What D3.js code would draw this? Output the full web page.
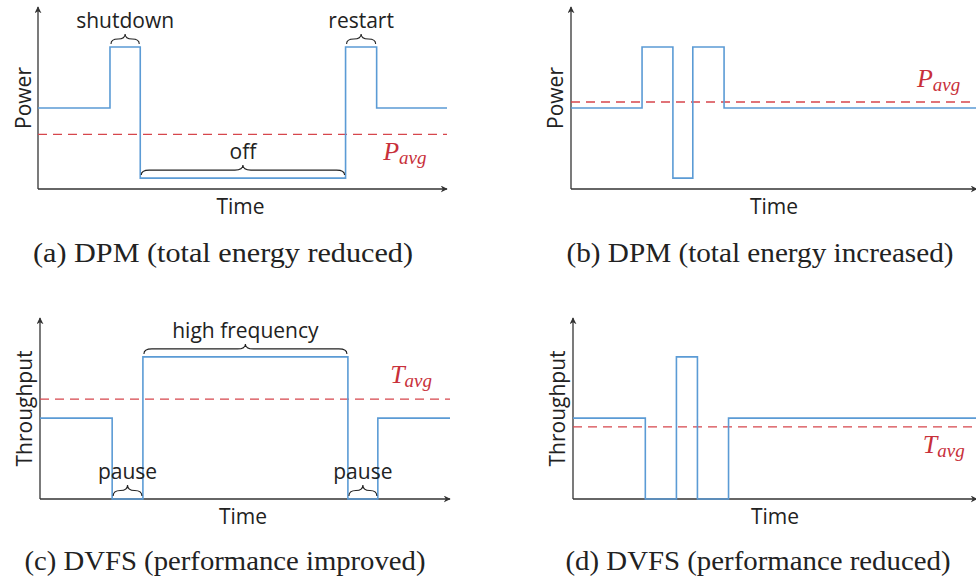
<!DOCTYPE html>
<html>
<head>
<meta charset="utf-8">
<script src="https://cdn.jsdelivr.net/npm/d3@7"></script>
<style>
  body { margin: 0; background: #fff; }
  svg { display: block; }
</style>
</head>
<body>
<div class="div1"></div>
<script>
// step signals: time breakpoints (0..100) and level after each breakpoint (0..100)
const timeA  = [0, 17.6, 25, 75.2, 82.8, 100];
const levelA = [44.5, 78, 6, 78, 44.5, 44.5];
const avgA   = 30;

const timeB  = [0, 17.5, 25.1, 30, 37.7, 100];
const levelB = [44.5, 78, 6, 78, 44.5, 44.5];
const avgB   = 47.8;

const timeC  = [0, 17.6, 25.1, 75.1, 82.4, 100];
const levelC = [44.7, 0, 78.5, 0, 44.7, 44.7];
const avgC   = 55.2;

const timeD  = [0, 17.9, 25.6, 30.8, 38.5, 100];
const levelD = [44.7, 0, 78.5, 0, 44.7, 44.7];
const avgD   = 39.8;

// annotations: [label, t1, t2, level of brace ends]
const notesA = [["shutdown", 17.6, 25, 78], ["restart", 75.2, 82.8, 78], ["off", 25, 75.2, 6]];
const notesC = [["high frequency", 25.1, 75.1, 78.5], ["pause", 17.6, 25.1, 0], ["pause", 75.1, 82.4, 0]];

const yLabels  = ["Power", "Power", "Throughput", "Throughput"];
const avgNames = ["P", "P", "T", "T"];
const captions = ["(a) DPM (total energy reduced)", "(b) DPM (total energy increased)",
                  "(c) DVFS (performance improved)", "(d) DVFS (performance reduced)"];

const W = 976, H = 588;
const blue = "#5b9bd5", red = "#d6464c", axisCol = "#333";

const svg = d3.select(".div1").append("svg")
  .attr("width", W).attr("height", H);

const defs = svg.append("defs");
defs.append("marker")
  .attr("id", "arr")
  .attr("viewBox", "0 0 10 10")
  .attr("refX", 9).attr("refY", 5)
  .attr("markerWidth", 7).attr("markerHeight", 7)
  .attr("markerUnits", "userSpaceOnUse")
  .attr("orient", "auto")
  .append("path")
  .attr("d", "M0,0 L10,5 L0,10 L3,5 Z")
  .attr("fill", axisCol);

// panel layout (pixels)
const panels = [
  {t: timeA, v: levelA, avg: avgA, notes: notesA, left: 38,  right: 447, top: 7,   bottom: 189,
   avgT: 84.4, avgDy: 26, capX: 223, capY: 262, capW: 380, ylx: 31},
  {t: timeB, v: levelB, avg: avgB, notes: [], left: 571, right: 977, top: 7,   bottom: 189,
   avgT: 85.2, avgDy: -15, capX: 760, capY: 262, capW: 387, ylx: 563},
  {t: timeC, v: levelC, avg: avgC, notes: notesC, left: 40,  right: 450, top: 318, bottom: 499,
   avgT: 85.4, avgDy: -16, capX: 225, capY: 570, capW: 401, ylx: 32},
  {t: timeD, v: levelD, avg: avgD, notes: [], left: 573, right: 977, top: 318, bottom: 499,
   avgT: 86.6, avgDy: 26, capX: 758, capY: 570, capW: 385, ylx: 565}
];

function brace(x1, x2, y, h) {
  // curly brace, tip pointing up
  const xm = (x1 + x2) / 2, r = Math.min(8, (x2 - x1) / 4), ym = y - h / 2;
  return `M${x1},${y} Q${x1},${ym} ${x1 + r},${ym} L${xm - r},${ym} Q${xm},${ym} ${xm},${y - h}` +
         ` Q${xm},${ym} ${xm + r},${ym} L${x2 - r},${ym} Q${x2},${ym} ${x2},${y}`;
}

panels.forEach((p, i) => {
  const x = d3.scaleLinear().domain([0, 100]).range([p.left, p.right]);
  const y = d3.scaleLinear().domain([0, 100]).range([p.bottom, p.top]);
  const g = svg.append("g");

  // axes with arrows
  g.append("line")
    .attr("x1", x(0)).attr("y1", y(0)).attr("x2", x(0)).attr("y2", y(100))
    .attr("stroke", axisCol).attr("stroke-width", 1.3).attr("marker-end", "url(#arr)");
  g.append("line")
    .attr("x1", x(0)).attr("y1", y(0)).attr("x2", x(100)).attr("y2", y(0))
    .attr("stroke", axisCol).attr("stroke-width", 1.3).attr("marker-end", "url(#arr)");

  // average dashed line
  g.append("line")
    .attr("x1", x(0)).attr("x2", x(100))
    .attr("y1", y(p.avg)).attr("y2", y(p.avg))
    .attr("stroke", red).attr("stroke-width", 1.3).attr("stroke-dasharray", "9,6");

  // signal
  const pts = p.t.map((t, k) => [t, p.v[k]]);
  const line = d3.line().x(d => x(d[0])).y(d => y(d[1])).curve(d3.curveStepAfter);
  g.append("path")
    .attr("d", line(pts))
    .attr("fill", "none").attr("stroke", blue).attr("stroke-width", 1.6);

  // average label
  const lab = g.append("text")
    .attr("x", x(p.avgT)).attr("y", y(p.avg) + p.avgDy)
    .attr("fill", "#c8303a")
    .attr("font-family", "'Liberation Serif', 'DejaVu Serif', serif")
    .attr("font-style", "italic");
  lab.append("tspan").attr("font-size", 26).text(avgNames[i]);
  lab.append("tspan").attr("font-size", 19).attr("dy", 4).text("avg");

  // braces + annotation text
  p.notes.forEach(n => {
    const x1 = x(n[1]) + 1, x2 = x(n[2]) - 1, yb = y(n[3]) - 3;
    const h = n[3] === 0 ? 11 : 10;
    g.append("path")
      .attr("d", brace(x1, x2, yb, h))
      .attr("fill", "none").attr("stroke", "#222").attr("stroke-width", 1.1);
    g.append("text")
      .attr("x", (x1 + x2) / 2).attr("y", yb - h - 6)
      .attr("text-anchor", "middle")
      .attr("font-family", "'Open Sans', sans-serif").attr("font-size", 21)
      .attr("fill", "#222")
      .text(n[0]);
  });

  // axis titles
  g.append("text")
    .attr("x", (x(0) + x(100)) / 2 + (p.right > 960 ? 0 : -2)).attr("y", y(0) + 25)
    .attr("text-anchor", "middle")
    .attr("font-family", "'Open Sans', sans-serif").attr("font-size", 21)
    .attr("fill", "#222")
    .text("Time");
  g.append("text")
    .attr("transform", `translate(${p.ylx},${(y(0) + y(100)) / 2}) rotate(-90)`)
    .attr("text-anchor", "middle")
    .attr("font-family", "'Open Sans', sans-serif").attr("font-size", 21)
    .attr("fill", "#222")
    .text(yLabels[i]);

  // caption
  svg.append("text")
    .attr("x", p.capX).attr("y", p.capY)
    .attr("text-anchor", "middle")
    .attr("font-family", "'Liberation Serif', serif").attr("font-size", 28)
    .attr("textLength", p.capW).attr("lengthAdjust", "spacingAndGlyphs")
    .attr("fill", "#222")
    .text(captions[i]);
});
</script>
</body>
</html>
